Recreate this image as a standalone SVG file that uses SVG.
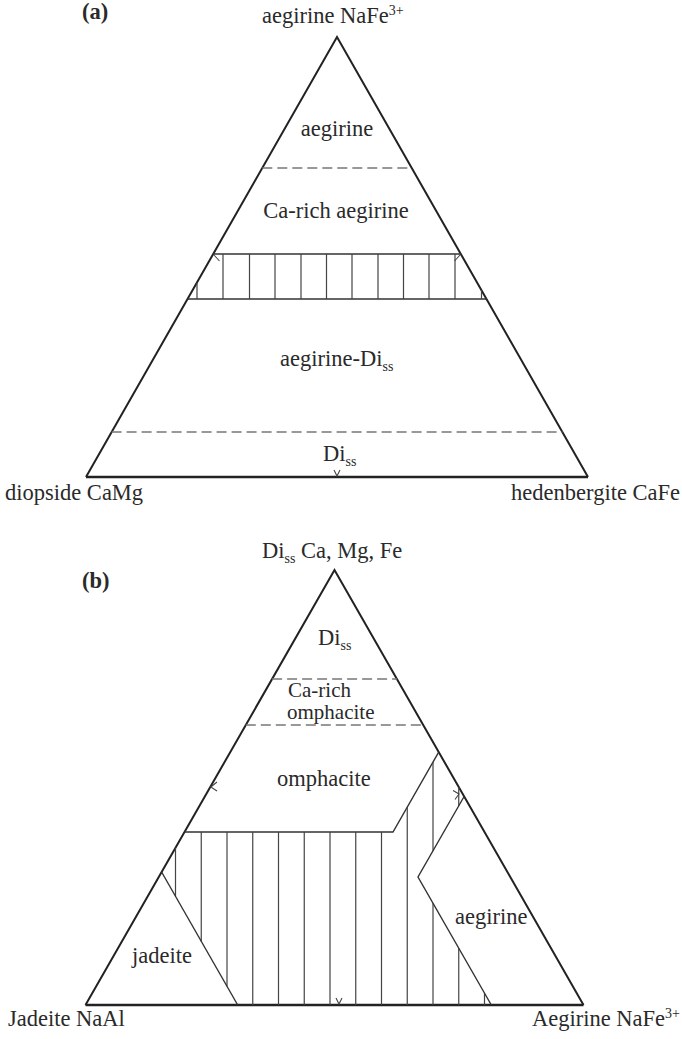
<svg xmlns="http://www.w3.org/2000/svg" width="682" height="1039" viewBox="0 0 682 1039">
<style>
text{font-family:'Liberation Serif','Times New Roman','DejaVu Serif','Noto Serif',serif;font-size:22.5px;fill:#2a2a2a}
.b{font-weight:bold}
.s{font-size:14px}
.tight{font-size:21px}
.edge{fill:none;stroke:#222;stroke-width:2;stroke-linejoin:miter}
.base{fill:none;stroke:#222;stroke-width:2.4}
.ln{fill:none;stroke:#333;stroke-width:1.4}
.h{fill:none;stroke:#444;stroke-width:1.2}
.d{fill:none;stroke:#777;stroke-width:1.5;stroke-dasharray:10 5}
.t{fill:none;stroke:#444;stroke-width:1.1}
</style>
<rect width="682" height="1039" fill="#fff"/>

<g id="diagram-a" font-family="Liberation Serif, Times New Roman, serif">
  <text class="b" x="82" y="19">(a)</text>
  <text x="262" y="23">aegirine NaFe<tspan class="s" dy="-8">3+</tspan></text>
  <g id="a-triangle">
    <path class="edge" d="M86 477 L337 37 L588 477"/>
    <line class="base" x1="86" y1="477" x2="588" y2="477"/>
  </g>
  <g id="a-aegirine"><text x="337" y="136" text-anchor="middle">aegirine</text></g>
  <line class="d" x1="262.3" y1="168" x2="411.7" y2="168"/>
  <g id="a-ca-rich"><text x="336" y="218" text-anchor="middle">Ca-rich aegirine</text></g>
  <g id="a-band">
    <line class="ln" x1="213.2" y1="254" x2="460.8" y2="254"/>
    <line class="ln" x1="187.5" y1="299" x2="486.5" y2="299"/>
    <path class="h" d="M197 282.4V299 M223 254V299 M249.5 254V299 M275 254V299 M301 254V299 M326.5 254V299 M352 254V299 M378 254V299 M403.5 254V299 M429 254V299 M455 254V299 M481.5 290.3V299"/>
    <path class="t" d="M213.5 254.5 L219.5 261 M460.5 254.5 L454.5 261"/>
  </g>
  <g id="a-aeg-di"><text x="280" y="366">aegirine-Di<tspan class="s" dy="5">ss</tspan></text></g>
  <line class="d" x1="111.6" y1="432" x2="562.4" y2="432"/>
  <g id="a-diss"><text x="323" y="461">Di<tspan class="s" dy="5">ss</tspan></text></g>
  <path class="t" d="M334 470 L337 476 L340 470"/>
  <text x="5" y="500">diopside CaMg</text>
  <text x="680" y="500" text-anchor="end">hedenbergite CaFe</text>
</g>

<g id="diagram-b" font-family="Liberation Serif, Times New Roman, serif">
  <text x="262" y="558">Di<tspan class="s" dy="5">ss</tspan><tspan dy="-5"> Ca, Mg, Fe</tspan></text>
  <text class="b" x="82" y="588">(b)</text>
  <g id="b-triangle">
    <path class="edge" d="M85.5 1005 L334.5 570 L583.5 1005"/>
    <line class="base" x1="85.5" y1="1005" x2="583.5" y2="1005"/>
  </g>
  <g id="b-diss"><text x="318" y="645">Di<tspan class="s" dy="5">ss</tspan></text></g>
  <line class="d" x1="272.1" y1="679" x2="396.9" y2="679"/>
  <g id="b-ca-rich"><text class="tight" x="288" y="697">Ca-rich</text><text class="tight" x="287" y="719">omphacite</text></g>
  <line class="d" x1="245.8" y1="725" x2="423.2" y2="725"/>
  <g id="b-omphacite"><text x="277" y="786">omphacite</text></g>
  <g id="b-hatched">
    <path class="ln" d="M184.5 832 L393 832 L438.7 752.1"/>
    <path class="h" d="M175.5 847.8V896.3 M201.25 832V941.3 M227 832V986.3 M252.75 832V1005 M278.5 832V1005 M304.25 832V1005 M330 832V1005 M355.75 832V1005 M381.5 832V1005 M407.25 807.1V1005 M433 762.1V850.8 M433 903.2V1005 M458.75 787.1V805.8 M458.75 948.2V1005 M484.5 993.2V1005"/>
  </g>
  <g id="b-jadeite">
    <line class="ln" x1="161.6" y1="872" x2="237.7" y2="1005"/>
    <text x="132" y="963">jadeite</text>
  </g>
  <g id="b-aegirine">
    <path class="ln" d="M464.1 796.5 L418 877 L491.3 1005"/>
    <text x="455" y="924">aegirine</text>
  </g>
  <path class="t" d="M217 782 L210.8 787 L217 791 M453 790.5 L459 794 L455 799.5 M336 998 L339 1004 L342 998"/>
  <text x="8" y="1026">Jadeite NaAl</text>
  <text x="680" y="1026" text-anchor="end">Aegirine NaFe<tspan class="s" dy="-8">3+</tspan></text>
</g>
</svg>
